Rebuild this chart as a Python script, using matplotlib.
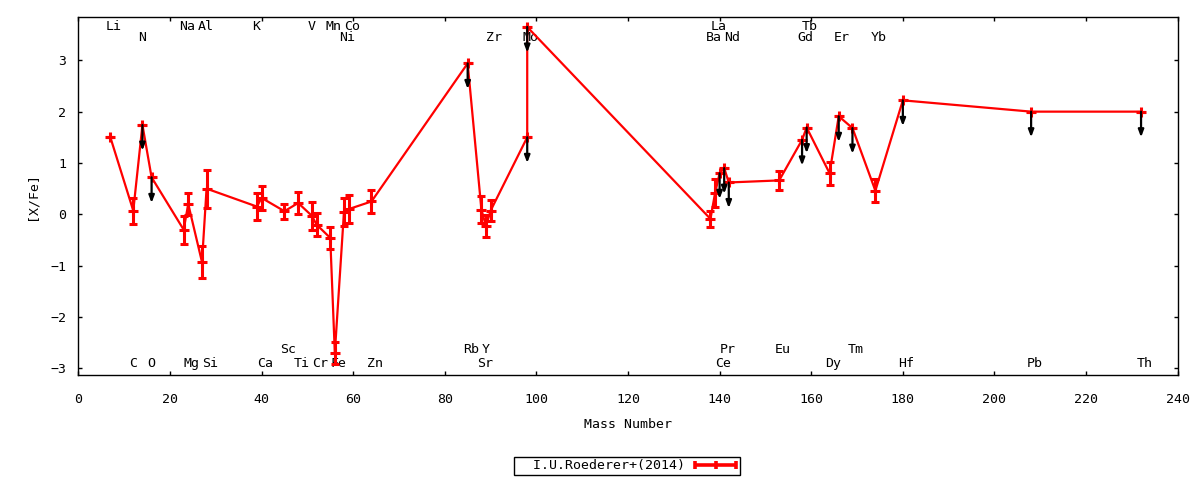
import matplotlib
matplotlib.use("Agg")
import matplotlib.pyplot as plt
from matplotlib.lines import Line2D
from matplotlib.legend_handler import HandlerBase

# ---------------- data ----------------
elements = ["Li", "C", "N", "O", "Na", "Mg", "Al", "Si", "K", "Ca", "Sc", "Ti", "V", "Cr",
            "Mn", "Fe", "Ni", "Co", "Zn", "Rb", "Sr", "Y", "Zr", "Mo", "Mo", "Ba", "La",
            "Ce", "Pr", "Nd", "Eu", "Gd", "Tb", "Dy", "Er", "Tm", "Yb", "Hf", "Pb", "Th"]
mass = [7, 12, 14, 16, 23, 24, 27, 28, 39, 40, 45, 48, 51, 52,
        55, 56, 58, 59, 64, 85, 88, 89, 90, 98, 98, 138, 139,
        140, 141, 142, 153, 158, 159, 164, 166, 169, 174, 180, 208, 232]
xfe = [1.50, 0.07, 1.74, 0.72, -0.30, 0.20, -0.93, 0.50, 0.15, 0.32, 0.06, 0.22, -0.03, -0.20,
       -0.46, -2.70, 0.05, 0.10, 0.25, 2.94, 0.09, -0.23, 0.07, 1.50, 3.65, -0.09, 0.41,
       0.80, 0.90, 0.62, 0.66, 1.45, 1.69, 0.80, 1.91, 1.68, 0.46, 2.22, 2.00, 2.00]
err = [0.0, 0.25, 0.0, 0.0, 0.27, 0.22, 0.32, 0.37, 0.26, 0.23, 0.15, 0.22, 0.27, 0.23,
       0.22, 0.21, 0.27, 0.27, 0.23, 0.0, 0.26, 0.22, 0.21, 0.0, 0.0, 0.16, 0.27,
       0.0, 0.0, 0.0, 0.18, 0.0, 0.0, 0.22, 0.0, 0.0, 0.22, 0.0, 0.0, 0.0]
upper_limit = [0, 0, 1, 1, 0, 0, 0, 0, 0, 0, 0, 0, 0, 0,
               0, 0, 0, 0, 0, 1, 0, 0, 0, 1, 1, 0, 0,
               1, 1, 1, 0, 1, 1, 0, 1, 1, 0, 1, 1, 1]

# element label rows
labels_top1 = ["Li", "Na", "Al", "K", "V", "Mn", "Co", "La", "Tb"]
labels_top2 = ["N", "Ni", "Zr", "Mo", "Ba", "Nd", "Gd", "Er", "Yb"]
labels_bot1 = ["Sc", "Rb", "Y", "Pr", "Eu", "Tm"]
labels_bot2 = ["C", "O", "Mg", "Si", "Ca", "Ti", "Cr", "Fe", "Zn", "Sr", "Ce", "Dy", "Hf", "Pb", "Th"]

legend_label = "I.U.Roederer+(2014)"
xlabel = "Mass Number"
ylabel = "[X/Fe]"
xticks = list(range(0, 241, 20))
yticks = [-3, -2, -1, 0, 1, 2, 3]

# ---------------- style ----------------
FONT = "DejaVu Sans Mono"
FS = 9.5
RED = "#ff0000"
plt.rcParams["font.family"] = [FONT, "DejaVu Sans"]
plt.rcParams["font.size"] = FS

W, H = 1200, 480
fig = plt.figure(figsize=(W / 100, H / 100), dpi=100)
ax_l, ax_r, ax_t, ax_b = 78.3, 1177.7, 17.3, 375.3
ax = fig.add_axes([ax_l / W, 1 - ax_b / H, (ax_r - ax_l) / W, (ax_b - ax_t) / H])

ax.set_xlim(0, 240)
ax.set_ylim(-3.137, 3.838)
ax.set_xticks(xticks)
ax.set_yticks(yticks)
ax.tick_params(direction="in", length=3, width=1, top=True, right=True,
               labelsize=FS, colors="black")
ax.tick_params(axis="x", pad=13)
ax.tick_params(axis="y", pad=8.5)
for s in ax.spines.values():
    s.set_linewidth(1.0)
    s.set_color("black")

# connecting line
ax.plot(mass, xfe, color=RED, lw=1.6, zorder=3)
# error bars with plus markers
eb = ax.errorbar(mass, xfe, yerr=err, fmt="+", color=RED, ms=7, mew=2.2,
                 elinewidth=2.2, capsize=3, capthick=2.2, zorder=4)

# upper-limit arrows
for m, v, ul in zip(mass, xfe, upper_limit):
    if ul:
        ax.annotate("", xy=(m, v - 0.5), xytext=(m, v),
                    arrowprops=dict(arrowstyle="-|>,head_length=0.45,head_width=0.17",
                                    color="black", lw=1.6, shrinkA=0, shrinkB=0),
                    zorder=5)

# element labels
label_mass = {}
for e, m in zip(elements, mass):
    label_mass.setdefault(e, m)
for row, yv in ((labels_top1, 3.65), (labels_top2, 3.44),
                (labels_bot1, -2.63), (labels_bot2, -2.90)):
    for e in row:
        ax.text(label_mass[e] - 1.0, yv, e, ha="left", va="center",
                fontsize=FS, zorder=1, color="black")

ax.set_xlabel(xlabel, fontsize=FS, va="center")
ax.xaxis.set_label_coords(0.5, (ax_b - 424.5) / (ax_b - ax_t))
ax.set_ylabel(ylabel, fontsize=FS, va="center")
ax.yaxis.set_label_coords((32 - ax_l) / (ax_r - ax_l), 0.5)


class HandlerGnuErr(HandlerBase):
    def create_artists(self, legend, orig_handle, xdescent, ydescent, width, height,
                       fontsize, trans):
        y = (height - ydescent) / 2.0
        x0, x1 = -xdescent, width - xdescent
        xm = (x0 + x1) / 2.0
        c = 3.0
        arts = [Line2D([x0, x1], [y, y], color=RED, lw=2.6, solid_capstyle="butt")]
        for xx in (x0 + 1, xm, x1 - 1):
            arts.append(Line2D([xx, xx], [y - c, y + c], color=RED, lw=2.6,
                               solid_capstyle="butt"))
        for a in arts:
            a.set_transform(trans)
        return arts


leg = fig.legend(handles=[eb], labels=["  " + legend_label],
                 handler_map={eb: HandlerGnuErr()},
                 loc="center", bbox_to_anchor=(627 / W, 1 - 466 / H),
                 bbox_transform=fig.transFigure, markerfirst=False,
                 handlelength=3.3, handletextpad=0.7, borderpad=0.2,
                 fancybox=False, framealpha=1, edgecolor="black", fontsize=FS)
leg.get_frame().set_linewidth(1.0)

fig.savefig("out.png", dpi=100, facecolor="white")
